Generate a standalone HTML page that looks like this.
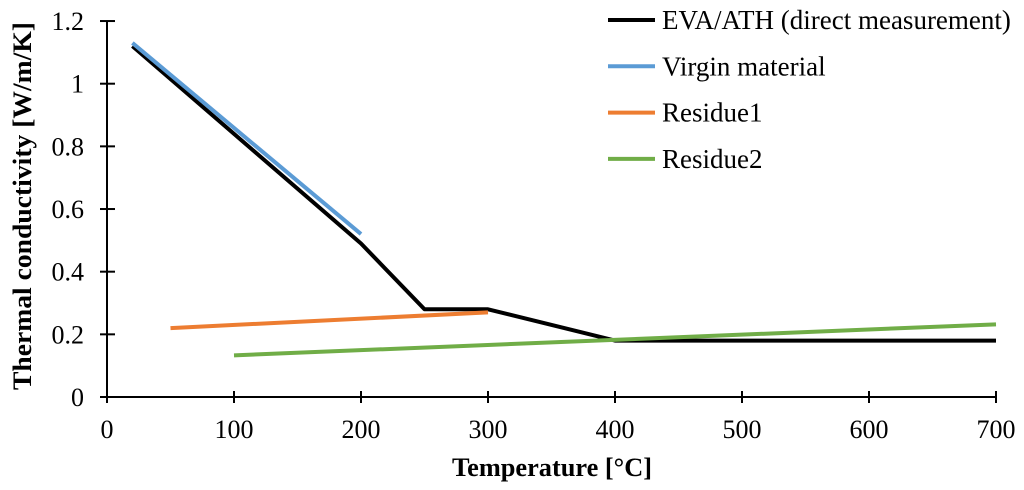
<!DOCTYPE html>
<html><head><meta charset="utf-8"><style>
body{margin:0;background:#fff}
svg{display:block}
text{font-family:"Liberation Serif",serif;fill:#000}
</style></head><body>
<svg width="1024" height="490">
<g id="axes"></g>
<g id="series"></g>
<g id="legend"></g>
<text x="552" y="476" text-anchor="middle" font-size="26" font-weight="bold" textLength="200" lengthAdjust="spacingAndGlyphs">Temperature [°C]</text>
<text transform="translate(31,206) rotate(-90)" text-anchor="middle" font-size="26" font-weight="bold" textLength="368" lengthAdjust="spacingAndGlyphs">Thermal conductivity [W/m/K]</text>
</svg>
<script>
const xTicks=[0,100,200,300,400,500,600,700];
const yTicks=[0,0.2,0.4,0.6,0.8,1,1.2];
const yTickLabels=["0","0.2","0.4","0.6","0.8","1","1.2"];
const seriesNames=["EVA/ATH (direct measurement)","Virgin material","Residue1","Residue2"];
const seriesColors=["#000000","#5b9bd5","#ed7d31","#70ad47"];
const evaX=[20,200,250,300,400,700], evaY=[1.12,0.49,0.28,0.28,0.18,0.18];
const virginX=[20,200], virginY=[1.13,0.52];
const res1X=[50,300], res1Y=[0.22,0.27];
const res2X=[100,700], res2Y=[0.133,0.232];
const NS="http://www.w3.org/2000/svg";
const X=v=>107+v*1.27, Y=v=>397-v*313.3;
function mk(t,a,p){const e=document.createElementNS(NS,t);for(const k in a)e.setAttribute(k,a[k]);p.appendChild(e);return e;}
const ax=document.getElementById('axes');
let l=mk('line',{x1:107,y1:Y(1.2),x2:107,y2:397,stroke:'#000','stroke-width':2},ax);


l=mk('line',{x1:100,y1:397,x2:X(700),y2:397,stroke:'#000','stroke-width':2},ax);


yTicks.forEach((v,i)=>{
 mk('line',{x1:100,x2:115,y1:Y(v),y2:Y(v),stroke:'#000','stroke-width':2},ax);
 const t=mk('text',{x:84,y:Y(v)+9,'text-anchor':'end','font-size':26},ax);t.textContent=yTickLabels[i];
 
 
});
xTicks.forEach(v=>{
 mk('line',{x1:X(v),x2:X(v),y1:391,y2:403,stroke:'#000','stroke-width':2},ax);
 const t=mk('text',{x:X(v),y:438,'text-anchor':'middle','font-size':26},ax);t.textContent=v;
 
 
});
const sg=document.getElementById('series');
const data=[[evaX,evaY],[virginX,virginY],[res1X,res1Y],[res2X,res2Y]];
const names=['eva-ath-line','virgin-material-line','residue1-line','residue2-line'];
data.forEach((d,i)=>{
 const p=mk('polyline',{points:d[0].map((x,j)=>X(x)+','+Y(d[1][j])).join(' '),fill:'none',stroke:seriesColors[i],'stroke-width':4,'stroke-linejoin':'round'},sg);
 
 
});
const lg=document.getElementById('legend');
seriesNames.forEach((n,i)=>{
 const y=20+i*46.3;
 const g=mk('g',{},lg);
 
 
 mk('line',{x1:608,x2:655,y1:y,y2:y,stroke:seriesColors[i],'stroke-width':4},g);
 const t=mk('text',{x:662,y:y+9,'font-size':27},g);t.textContent=n;
});
</script>
</body></html>
